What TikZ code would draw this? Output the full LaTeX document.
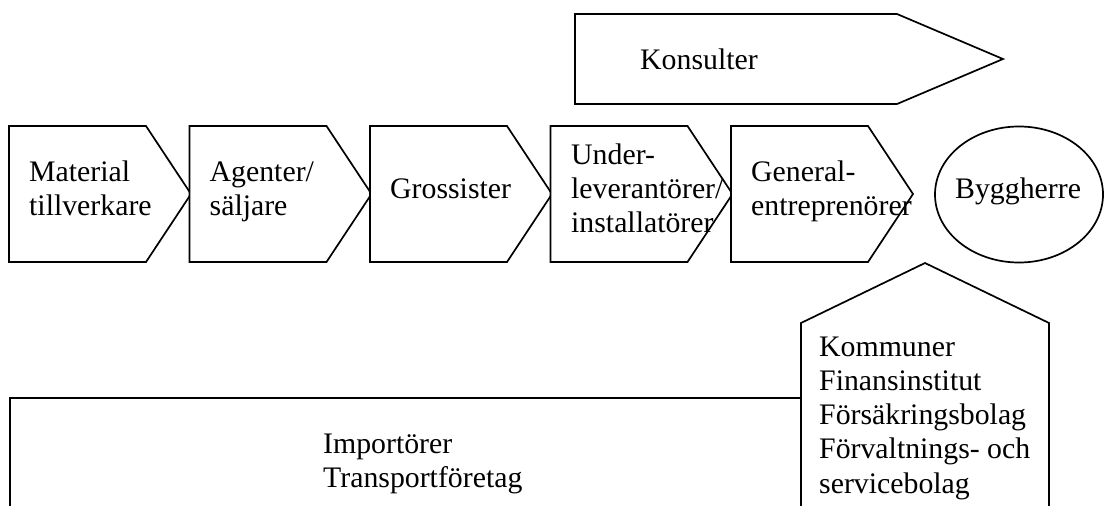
\documentclass[tikz,border=0pt]{standalone}
\usepackage{fontspec}
\setmainfont{Liberation Serif}
\begin{document}
\begin{tikzpicture}[x=1pt,y=-1pt,
  shapeline/.style={draw=black, line width=1.7pt, line join=miter},
  txt/.style={font=\fontsize{29.8}{34.3}\selectfont, inner sep=0pt, anchor=base west},
  chevron/.pic={\draw[shapeline, fill=white] (0,126) -- (137,126) -- (182,194) -- (137,262) -- (0,262) -- cycle;}
]
\useasboundingbox (0,0) rectangle (1104,506);
\clip (0,0) rectangle (1104,506);

% consultants arrow along the top
\draw[shapeline] (575,14) -- (897,14) -- (1003,59) -- (897,104) -- (575,104) -- cycle;

% the supply chain
\pic at (9,0) {chevron};
\pic at (189.5,0) {chevron};
\pic at (370,0) {chevron};
\pic at (550.5,0) {chevron};
\pic at (731,0) {chevron};

% client
\draw[shapeline] (1019,194.5) ellipse [x radius=84, y radius=68];

% importers / transport box and the supporting actors
\draw[shapeline] (10,520) -- (10,398) -- (801,398);
\draw[shapeline, fill=white] (801,520) -- (801,323) -- (925,263) -- (1049,323) -- (1049,520);

% texts
\node[txt] (konsulter) at (640,69) {Konsulter};
\node[txt] (material) at (29,181.5) {\begin{tabular}[t]{@{}l@{}}Material\\tillverkare\end{tabular}};
\node[txt] (agenter) at (209.5,181.5) {\begin{tabular}[t]{@{}l@{}}Agenter/\\säljare\end{tabular}};
\node[txt] (grossister) at (390,198) {Grossister};
\node[txt] (under) at (571,164) {\begin{tabular}[t]{@{}l@{}}Under-\\leverantörer/\\installatörer\end{tabular}};
\node[txt] (general) at (751,181.5) {\begin{tabular}[t]{@{}l@{}}General-\\entreprenörer\end{tabular}};
\node[txt] (byggherre) at (955,198) {Byggherre};
\node[txt] (import) at (323,453) {\begin{tabular}[t]{@{}l@{}}Importörer\\Transportföretag\end{tabular}};
\node[txt] (kommuner) at (819,356) {\begin{tabular}[t]{@{}l@{}}Kommuner\\Finansinstitut\\Försäkringsbolag\\Förvaltnings- och\\servicebolag\end{tabular}};
\end{tikzpicture}
\end{document}
